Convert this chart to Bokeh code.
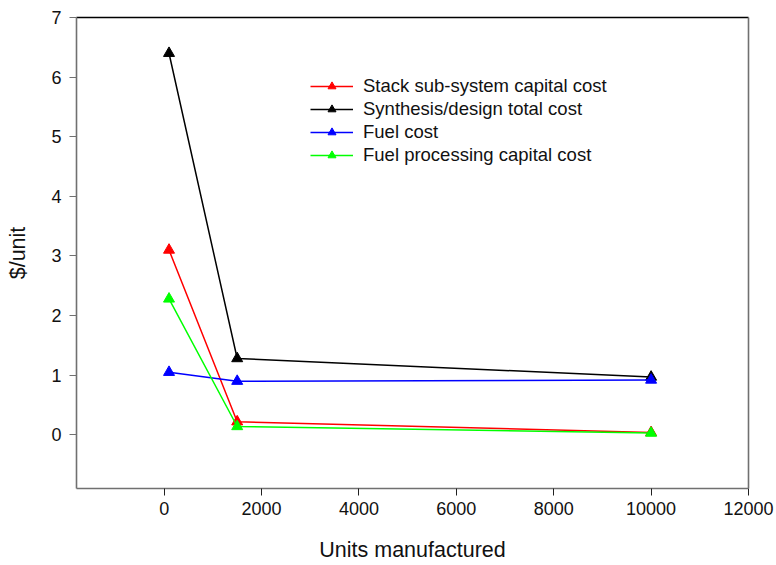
from bokeh.plotting import figure
from bokeh.models import Range1d, LinearAxis, FixedTicker, Legend, LegendItem
from bokeh.embed import file_html
from bokeh.resources import INLINE

# Units manufactured and cost per unit for each series
units = [100, 1500, 10000]
stack_capital = [3.10, 0.22, 0.04]
synthesis_total = [6.40, 1.28, 0.97]
fuel_cost = [1.05, 0.90, 0.92]
fuel_processing = [2.28, 0.14, 0.03]

series = [
    ("Stack sub-system capital cost", stack_capital, "#ff0000"),
    ("Synthesis/design total cost", synthesis_total, "#000000"),
    ("Fuel cost", fuel_cost, "#0000ff"),
    ("Fuel processing capital cost", fuel_processing, "#00ff00"),
]

x_ticks = [0, 2000, 4000, 6000, 8000, 10000, 12000]
y_ticks = [0, 1, 2, 3, 4, 5, 6, 7]

FONT = "Liberation Sans"

p = figure(width=776, height=565, output_backend="svg", toolbar_location=None,
           x_range=Range1d(-1800, 12000), y_range=Range1d(-0.9, 7.0),
           min_border_left=76, min_border_right=28, min_border_top=17,
           min_border_bottom=77)
p.xgrid.visible = False
p.ygrid.visible = False
p.outline_line_color = None
p.background_fill_color = "white"
p.border_fill_color = "white"

renderers = []
for name, vals, color in series:
    ln = p.line(units, vals, line_color=color, line_width=1.5)
    mk = p.scatter(units, vals, marker="triangle", size=11, fill_color=color,
                   line_color=color)
    renderers.append((name, [ln, mk]))

xa = p.xaxis[0]
xa.ticker = FixedTicker(ticks=x_ticks)
xa.axis_label = "Units manufactured"
ya = p.yaxis[0]
ya.ticker = FixedTicker(ticks=y_ticks)
ya.axis_label = "$/unit"

for ax in (xa, ya):
    ax.axis_line_color = "#707070"
    ax.axis_line_width = 1.6
    ax.major_tick_line_color = "#202020"
    ax.major_tick_out = 7
    ax.major_tick_in = 0
    ax.minor_tick_line_color = None
    ax.major_label_text_font = FONT
    ax.major_label_text_font_size = "18px"
    ax.major_label_text_color = "#111111"
    ax.axis_label_text_font = FONT
    ax.axis_label_text_font_size = "21.5px"
    ax.axis_label_text_font_style = "normal"
    ax.axis_label_text_color = "#111111"
ya.major_tick_line_color = "#707070"
xa.major_label_standoff = 6
xa.axis_label_standoff = 20
ya.major_label_standoff = 8
ya.axis_label_standoff = 18

# frame edges on the top and right
top = LinearAxis(ticker=FixedTicker(ticks=[]), major_label_text_font_size="0px",
                 axis_line_color="#000000", axis_line_width=1.6,
                 major_tick_line_color=None, minor_tick_line_color=None)
right = LinearAxis(ticker=FixedTicker(ticks=[]), major_label_text_font_size="0px",
                   axis_line_color="#707070", axis_line_width=1.6,
                   major_tick_line_color=None, minor_tick_line_color=None)
p.add_layout(top, "above")
p.add_layout(right, "right")

legend = Legend(items=[LegendItem(label=n, renderers=r) for n, r in renderers],
                location=(234, 322), orientation="vertical",
                label_text_font=FONT, label_text_font_size="18.5px",
                label_text_color="#111111",
                glyph_width=43, glyph_height=20, label_height=23,
                label_standoff=10, spacing=0, padding=0, margin=0,
                border_line_color=None, background_fill_alpha=0)
p.add_layout(legend, "center")

open("out.html", "w").write(file_html(p, INLINE))
